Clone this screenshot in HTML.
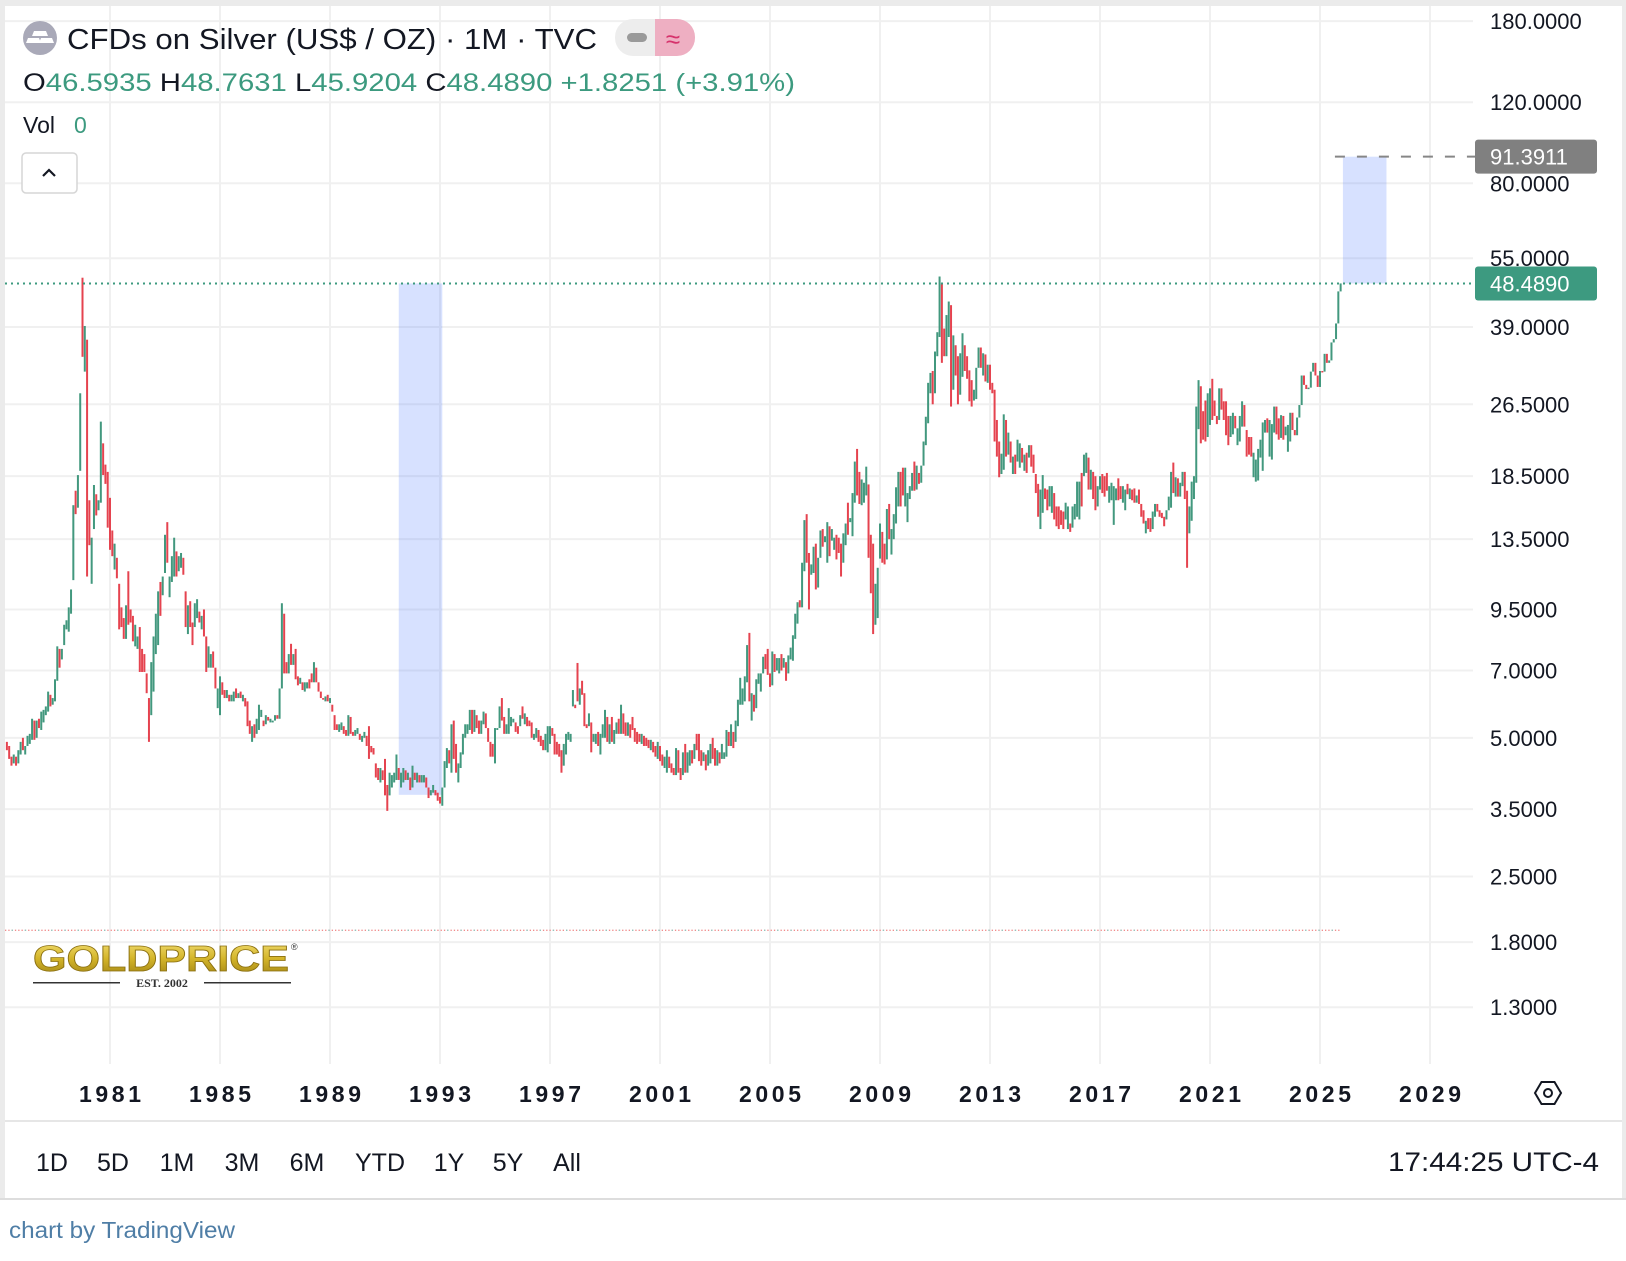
<!DOCTYPE html>
<html><head><meta charset="utf-8"><title>CFDs on Silver chart</title>
<style>
html,body{margin:0;padding:0;background:#fff;}
body{width:1626px;height:1256px;overflow:hidden;font-family:"Liberation Sans",sans-serif;}
svg text{font-family:"Liberation Sans",sans-serif;}
</style></head>
<body>
<svg id="chart" width="1626" height="1256" viewBox="0 0 1626 1256" xmlns="http://www.w3.org/2000/svg">
  <rect x="0" y="0" width="1626" height="1256" fill="#ffffff"/>
  <rect x="0" y="0" width="1626" height="6" fill="#ebebeb"/>
  <rect x="0" y="0" width="5" height="1200" fill="#ebebeb"/>
  <rect x="1622" y="0" width="4" height="1200" fill="#ebebeb"/>
  <rect x="0" y="1198" width="1626" height="2" fill="#dddddd"/>
  <rect x="5" y="1120" width="1617" height="2" fill="#e6e6e6"/>
  <g id="grid"></g>
  <g id="overlays"></g>
  <g id="candles"></g>
  <g id="lines"></g>
  <g id="yaxis"></g>
  <g id="xaxis"></g>

  <!-- header -->
  <g>
    <circle cx="40" cy="38" r="17" fill="#a9a9b8"/>
    <path d="M34 31 h12 l2 5 h-16z M28 38 h11 l2 5 h-15z M41 38 h11 l2 5 h-15z" fill="#fff"/>
    <text x="67" y="49" font-size="29" fill="#131722" textLength="530" lengthAdjust="spacingAndGlyphs">CFDs on Silver (US$ / OZ) · 1M · TVC</text>
    <rect x="615" y="19" width="60" height="37" rx="18" fill="#ededed"/>
    <rect x="655" y="19" width="40" height="37" rx="18" fill="#eeafc2"/>
    <rect x="655" y="19" width="20" height="37" fill="#eeafc2"/>
    <rect x="627" y="33" width="20" height="9" rx="4.5" fill="#9a9a9a"/>
    <text x="673" y="48" font-size="26" fill="#d6336c" text-anchor="middle">≈</text>
    <text x="23" y="91" font-size="25" textLength="772" lengthAdjust="spacingAndGlyphs"><tspan fill="#131722">O</tspan><tspan fill="#3c9a7f">46.5935 </tspan><tspan fill="#131722">H</tspan><tspan fill="#3c9a7f">48.7631 </tspan><tspan fill="#131722">L</tspan><tspan fill="#3c9a7f">45.9204 </tspan><tspan fill="#131722">C</tspan><tspan fill="#3c9a7f">48.4890 +1.8251 (+3.91%)</tspan></text>
    <text x="23" y="133" font-size="23" fill="#131722">Vol</text>
    <text x="74" y="133" font-size="23" fill="#3c9a7f">0</text>
    <rect x="22" y="153" width="55" height="40" rx="4" fill="#fff" stroke="#d6d6d6" stroke-width="1.5"/>
    <path d="M43 176 l6 -6 l6 6" fill="none" stroke="#131722" stroke-width="2.2"/>
  </g>

  <!-- logo -->
  <g>
    <defs>
      <linearGradient id="gold" x1="0" y1="0" x2="0" y2="1">
        <stop offset="0" stop-color="#f6e27a"/><stop offset="0.5" stop-color="#d4b52a"/><stop offset="1" stop-color="#9c7f12"/>
      </linearGradient>
    </defs>
    <text x="33" y="971" font-size="36" font-weight="bold" fill="url(#gold)" stroke="#8a6f10" stroke-width="0.8" textLength="256" lengthAdjust="spacingAndGlyphs">GOLDPRICE</text>
    <text x="291" y="950" font-size="9" fill="#333">®</text>
    <rect x="33" y="982" width="87" height="1.5" fill="#333"/>
    <rect x="204" y="982" width="87" height="1.5" fill="#333"/>
    <text x="162" y="987" font-size="12" font-weight="bold" fill="#333" text-anchor="middle" style="font-family:'Liberation Serif',serif">EST. 2002</text>
  </g>

  <!-- settings icon -->
  <g>
    <polygon points="1535,1093 1541.5,1082 1554.5,1082 1561,1093 1554.5,1104 1541.5,1104" fill="none" stroke="#131722" stroke-width="2"/>
    <circle cx="1548" cy="1093" r="4" fill="none" stroke="#131722" stroke-width="2"/>
  </g>

  <!-- toolbar -->
  <g font-size="25" fill="#131722">
    <text x="52" y="1171" text-anchor="middle">1D</text>
    <text x="113" y="1171" text-anchor="middle">5D</text>
    <text x="177" y="1171" text-anchor="middle">1M</text>
    <text x="242" y="1171" text-anchor="middle">3M</text>
    <text x="307" y="1171" text-anchor="middle">6M</text>
    <text x="380" y="1171" text-anchor="middle">YTD</text>
    <text x="449" y="1171" text-anchor="middle">1Y</text>
    <text x="508" y="1171" text-anchor="middle">5Y</text>
    <text x="567" y="1171" text-anchor="middle">All</text>
    <text x="1388" y="1171" font-size="27" textLength="211" lengthAdjust="spacingAndGlyphs">17:44:25 UTC-4</text>
  </g>
  <text x="9" y="1238" font-size="23" fill="#4f7ea6" textLength="226" lengthAdjust="spacingAndGlyphs">chart by TradingView</text>
</svg>
<script>
// ---- data ----
const startYear = 1977, startMonth = 3; // April 1977 (0-based month)
const yearTicks = [1981,1985,1989,1993,1997,2001,2005,2009,2013,2017,2021,2025,2029];
const priceTicks = [180,120,80,55,39,26.5,18.5,13.5,9.5,7,5,3.5,2.5,1.8,1.3];
const tickLabels = ["180.0000","120.0000","80.0000","55.0000","39.0000","26.5000","18.5000","13.5000","9.5000","7.0000","5.0000","3.5000","2.5000","1.8000","1.3000"];
const lastPrice = 48.489;
const targetPrice = 91.3911;
const supportPrice = 1.91;
const highlightRanges = [
  {from:[1991,6], to:[1993,1], top:48.489, bottom:3.76},
  {from:[2025,10], to:[2027,5], top:91.3911, bottom:48.489}
];
const opens = [
/*1977*/4.9,4.8,4.55,4.4,4.55,4.4,4.6,5.0,4.6,
/*1978*/4.8,4.85,4.95,5.45,5.0,5.5,5.2,5.4,5.6,5.7,6.2,5.9,
/*1979*/6.0,6.65,7.8,7.4,7.95,8.6,8.5,9.3,11,17.2,15.8,19.0,
/*1980*/49.9,31.2,36.6,16.4,10.8,14.2,16.9,15.6,16.2,21.8,19.6,18.9,
/*1981*/16.6,14.1,11.6,12.3,10.8,9.6,9.1,8.2,11.5,9.5,9.2,7.9,
/*1982*/7.8,8.7,7.8,7.6,6.9,6.1,5.6,6.3,7.6,7.95,10.9,10.2,
/*1983*/11.4,14.7,10.1,10.9,11.2,12.7,11.5,11.7,12.3,10.4,8.4,9.9,
/*1984*/8.9,8.7,9.1,9.4,8.6,9.5,8.3,7.1,7.1,7.7,7.1,5.8,
/*1985*/5.6,6.6,6.35,6.1,6.2,6.0,6.0,6.4,6.1,6.3,6.0,6.1,
/*1986*/6.0,5.45,4.9,5.35,5.1,5.2,5.55,5.45,5.35,5.55,5.4,5.4,
/*1987*/5.45,5.6,5.5,6.4,9.3,7.3,6.9,8.0,7.2,7.8,6.8,6.55,
/*1988*/6.6,6.3,6.4,6.7,6.9,6.6,7.1,6.6,6.3,6.1,6.0,6.2,
/*1989*/5.95,5.9,5.6,5.35,5.15,5.2,5.3,5.2,5.05,5.55,5.15,5.05,
/*1990*/5.1,5.1,4.9,5.0,5.05,5.3,4.8,4.75,4.4,4.3,4.0,4.25,
/*1991*/4.5,3.95,3.75,3.9,4.0,4.05,4.3,3.9,4.0,4.25,4.05,4.1,
/*1992*/3.9,4.2,4.0,4.15,4.0,4.0,4.1,3.9,3.75,3.8,3.85,3.8,
/*1993*/3.72,3.56,3.9,4.3,4.7,4.2,5.45,4.85,4.0,4.3,4.6,5.0,
/*1994*/5.1,5.2,5.75,5.15,5.6,5.45,5.1,5.35,5.65,5.25,4.9,4.85,
/*1995*/4.4,5.2,5.25,6.1,5.55,5.1,5.1,5.3,5.4,5.4,5.3,5.3,
/*1996*/5.85,5.35,5.55,5.45,5.4,4.95,5.0,5.2,5.05,4.95,4.7,4.65,
/*1997*/4.85,5.25,5.1,4.9,4.85,4.7,4.35,4.6,4.95,4.9,5.85,5.9,
/*1998*/7.27,5.9,6.65,6.25,5.35,5.3,5.4,4.9,4.85,5.15,4.6,5.0,
/*1999*/5.0,5.55,4.85,5.55,4.85,5.1,5.5,5.1,5.65,5.4,5.05,5.35,
/*2000*/5.55,5.25,5.15,5.1,4.85,5.05,5.0,4.95,4.7,4.9,4.8,4.5,
/*2001*/4.8,4.6,4.3,4.2,4.55,4.4,4.3,4.15,4.7,4.3,4.15,4.85,
/*2002*/4.2,4.35,4.7,4.5,5.1,5.1,4.7,4.45,4.6,4.35,4.4,5.0,
/*2003*/4.75,4.35,4.65,4.5,4.5,4.55,5.15,4.8,5.15,4.9,5.3,5.9,
/*2004*/5.9,6.0,6.6,8.45,5.45,6.2,5.8,6.55,6.3,6.9,7.6,7.8,
/*2005*/6.9,6.5,7.6,7.0,6.9,7.6,7.1,7.3,6.9,7.4,7.35,8.2,
/*2006*/8.85,9.95,9.6,11.5,15.3,12.6,11.3,11.4,13.2,10.6,12.3,14.2,
/*2007*/13.3,12.0,14.4,13.4,12.8,13.8,13.6,13.2,12.0,13.1,16.2,14.7,
/*2008*/13.7,16.2,21.2,18.9,16.0,16.2,16.8,17.75,13.8,13.2,8.8,9.1,
/*2009*/12.25,14.0,13.2,12.2,16.1,12.5,13.5,14.6,15.9,18.9,19.3,15.9,
/*2010*/14.7,16.5,17.2,19.9,17.3,18.8,17.9,19.5,21.6,24.1,28.0,31.3,
/*2011*/28.0,33.7,37.1,48.5,38.7,33.7,37.1,43.5,28.5,35.6,33.7,27.8,
/*2012*/30.4,35.6,33.7,31.4,29.9,27.0,27.2,31.8,35.2,30.6,34.0,29.5,
/*2013*/32.3,29.5,28.5,24.5,22.0,18.7,19.1,24.5,20.6,22.0,18.7,20.6,
/*2014*/19.9,19.3,21.3,19.0,20.8,20.3,21.6,20.6,18.7,17.8,14.2,15.4,
/*2015*/17.4,17.3,15.9,15.4,17.0,15.9,15.9,15.6,15.5,14.9,14.2,14.6,
/*2016*/14.3,14.9,15.1,14.9,18.8,18.5,18.8,20.3,17.3,18.9,18.5,15.9,
/*2017*/17.3,18.7,18.5,18.8,16.2,16.4,14.5,16.4,18.3,17.6,16.2,15.6,
/*2018*/17.8,16.5,17.3,17.4,16.2,17.3,16.1,15.6,13.9,15.0,15.0,14.2,
/*2019*/15.1,16.1,15.6,15.4,15.1,14.9,15.6,15.8,19.8,16.7,18.3,16.7,
/*2020*/17.6,18.9,17.2,13.9,14.8,16.5,17.9,23.4,29.0,25.6,27.0,22.5,
/*2021*/23.9,30.1,27.0,25.0,24.5,28.7,26.9,26.9,25.0,22.5,22.8,25.0,
/*2022*/21.6,22.0,23.7,26.4,23.3,22.5,22.5,18.4,18.0,18.1,20.3,19.0,
/*2023*/23.0,24.7,20.4,20.1,23.0,26.2,24.7,22.4,25.0,22.7,20.9,22.0,
/*2024*/25.4,23.3,22.7,24.8,26.4,30.6,29.2,28.6,28.8,31.2,32.6,30.6,
/*2025*/28.9,31.3,31.2,34.1,32.6,33.0,36.1,36.7,39.7,46.5935
];
const closes = [
/*1977*/4.7,4.5,4.35,4.6,4.35,4.7,4.9,4.7,4.8,
/*1978*/5.05,5.1,5.5,4.95,5.45,5.25,5.7,5.75,5.85,6.3,5.85,6.1,
/*1979*/6.7,7.9,7.1,7.8,8.8,9.0,9.6,10.5,16,15.3,18.6,28.0,
/*1980*/33.6,39.2,11.2,13.1,13.6,17.7,15.2,16.4,24.3,18.6,17.8,14.3,
/*1981*/12.8,12.4,13.2,11.1,8.6,8.7,8.2,9.7,8.8,8.9,8.1,8.8,
/*1982*/8.3,6.95,6.95,6.95,6.25,4.9,7.3,8.3,9.3,10.4,9.2,11.2,
/*1983*/13.8,12.0,11.2,12.4,13.6,11.2,12.4,12.6,11.3,8.7,9.7,8.7,
/*1984*/7.95,9.8,10.0,8.9,9.2,8.3,6.95,7.9,7.6,7.1,6.4,6.4,
/*1985*/6.8,6.2,6.1,6.35,6.0,6.2,6.3,6.1,6.25,6.1,6.2,5.85,
/*1986*/5.3,5.1,5.3,5.0,5.5,5.9,5.75,5.3,5.6,5.45,5.5,5.45,
/*1987*/5.6,5.5,6.4,9.8,6.9,6.9,7.6,7.2,7.6,6.7,6.5,6.75,
/*1988*/6.35,6.6,6.6,6.4,6.6,7.3,6.6,6.3,6.1,6.05,6.15,6.0,
/*1989*/6.1,5.7,5.2,5.2,5.35,5.4,5.1,5.05,5.6,5.1,5.05,5.2,
/*1990*/5.25,4.95,5.05,5.15,4.8,4.5,4.65,4.6,4.1,4.05,4.3,4.05,
/*1991*/3.75,3.47,4.2,4.15,4.2,4.6,4.05,4.2,4.3,4.05,4.2,3.85,
/*1992*/4.35,4.05,4.2,4.0,4.15,4.15,3.9,3.7,3.85,3.95,3.75,3.65,
/*1993*/3.6,3.9,4.45,4.75,4.4,5.35,4.5,4.2,4.4,4.65,5.1,5.35,
/*1994*/5.35,5.75,5.1,5.75,5.25,5.1,5.45,5.7,5.25,4.9,4.55,4.55,
/*1995*/5.25,5.25,5.85,5.45,5.1,5.35,5.8,5.55,5.5,5.15,5.1,5.6,
/*1996*/5.5,5.65,5.3,5.3,5.0,5.1,5.25,4.9,4.8,4.7,5.1,5.3,
/*1997*/5.3,5.05,4.6,4.6,4.55,4.2,4.85,5.1,5.15,5.1,6.35,5.8,
/*1998*/6.0,6.4,6.2,5.3,5.25,5.65,4.65,5.1,5.1,4.8,5.1,5.35,
/*1999*/5.75,4.9,5.35,4.9,5.2,5.4,5.1,5.9,5.1,5.05,5.4,5.0,
/*2000*/5.2,4.9,4.85,4.9,5.1,4.8,4.8,4.75,4.95,4.65,4.55,4.9,
/*2001*/4.45,4.35,4.55,4.7,4.3,4.2,4.15,4.75,4.2,4.05,4.65,4.2,
/*2002*/4.65,4.7,4.4,4.85,4.7,4.45,4.35,4.65,4.25,4.7,4.85,4.5,
/*2003*/4.35,4.7,4.4,4.85,4.65,5.2,4.8,5.35,4.75,5.45,6.05,6.75,
/*2004*/6.4,6.8,7.95,6.0,6.25,5.7,6.7,6.9,6.9,7.5,7.05,6.85,
/*2005*/6.45,7.7,6.95,7.45,7.45,7.0,7.45,6.65,7.55,7.85,8.35,9.3,
/*2006*/9.85,9.6,12.0,14.85,12.0,9.5,11.9,13.0,10.5,12.3,14.1,13.0,
/*2007*/13.7,14.7,12.4,14.2,13.6,12.2,12.6,11.2,13.9,14.6,13.8,15.0,
/*2008*/17.0,19.9,16.8,16.1,18.2,17.9,19.4,12.3,10.3,8.4,10.8,11.7,
/*2009*/14.6,12.0,11.9,15.7,13.5,14.2,15.3,17.5,18.9,15.9,16.8,19.3,
/*2010*/17.0,17.6,18.8,17.2,19.5,17.8,19.5,22.0,24.9,29.5,31.0,26.5,
/*2011*/34.5,38.0,50.2,32.6,33.7,41.4,44.3,26.2,37.4,30.6,26.5,34.2,
/*2012*/37.8,31.3,30.1,26.9,26.2,28.5,31.8,35.2,31.8,34.2,29.7,32.3,
/*2013*/28.5,28.0,22.0,20.4,18.4,20.7,25.2,20.4,23.0,19.8,20.4,18.7,
/*2014*/22.2,21.8,19.8,20.6,18.8,21.6,19.4,18.8,17.0,15.1,17.3,18.6,
/*2015*/16.5,15.6,17.6,17.6,14.9,14.4,14.2,14.5,14.2,16.2,15.9,14.0,
/*2016*/15.9,16.1,18.0,18.0,15.9,20.6,20.8,17.3,19.1,16.5,15.6,17.6,
/*2017*/18.5,17.0,16.7,17.2,17.6,17.9,17.6,17.4,16.4,16.5,17.6,17.3,
/*2018*/16.9,17.4,16.4,16.2,16.8,16.1,15.1,14.6,14.8,14.2,14.0,15.5,
/*2019*/16.1,15.5,15.1,15.0,14.4,15.6,16.7,18.9,17.0,18.4,16.7,17.9,
/*2020*/18.9,16.5,11.7,15.9,18.0,18.5,26.2,29.9,21.8,22.2,22.0,28.0,
/*2021*/28.7,24.5,25.0,24.0,28.7,25.8,24.5,22.7,21.6,25.0,25.4,23.5,
/*2022*/23.5,25.0,26.9,23.7,20.4,20.6,20.4,20.8,20.1,21.2,22.2,24.2,
/*2023*/24.5,23.0,24.5,24.0,26.2,22.8,22.2,25.1,22.2,23.7,23.9,25.4,
/*2024*/23.3,22.7,24.8,26.4,30.6,29.2,28.6,28.8,31.2,32.6,30.6,28.9,
/*2025*/31.3,31.2,34.1,32.6,33.0,36.1,36.7,39.7,46.6,48.489
];

// ---- scales ----
const NS = "http://www.w3.org/2000/svg";
const X0 = 110, PX_PER_YEAR = 27.5;
const Y_REF = 327, V_REF = 39, PX_PER_LN = 200;
const PLOT_LEFT = 5, PLOT_RIGHT = 1473, PLOT_TOP = 6, PLOT_BOTTOM = 1064;
function xOf(year, month){ return X0 + ((year - 1981) + month/12) * PX_PER_YEAR; }
function yOf(v){ return Y_REF + (Math.log(V_REF) - Math.log(v)) * PX_PER_LN; }
function mk(tag, attrs, parent){ const e = document.createElementNS(NS, tag); for (const k in attrs) e.setAttribute(k, attrs[k]); parent.appendChild(e); return e; }

const grid = document.getElementById('grid');
yearTicks.forEach(function(yr){
  const x = xOf(yr, 0);
  const l = mk('line', {x1:x, x2:x, y1:PLOT_TOP, y2:PLOT_BOTTOM, stroke:'#f0f0f0', 'stroke-width':2}, grid);
  
  
});
priceTicks.forEach(function(v){
  const y = yOf(v);
  const l = mk('line', {x1:PLOT_LEFT, x2:PLOT_RIGHT, y1:y, y2:y, stroke:'#f0f0f0', 'stroke-width':2}, grid);
  
  
});

const ov = document.getElementById('overlays');
highlightRanges.forEach(function(r){
  const x1 = xOf(r.from[0], r.from[1]), x2 = xOf(r.to[0], r.to[1]);
  const y1 = yOf(r.top), y2 = yOf(r.bottom);
  const rc = mk('rect', {x:x1, y:y1, width:x2-x1, height:y2-y1, fill:'rgba(41,98,255,0.19)'}, ov);
  
  
});

const cg = document.getElementById('candles');
for (let i = 0; i < closes.length; i++){
  const mIdx = startMonth + i;
  const yr = startYear + Math.floor(mIdx/12), mo = mIdx % 12;
  const x = xOf(yr, mo);
  const o = opens[i], c = closes[i];
  const yTop = yOf(Math.max(o,c)), yBot = yOf(Math.min(o,c));
  const up = c >= o;
  const r = mk('rect', {x:(x-1).toFixed(2), y:yTop.toFixed(2), width:2, height:Math.max(1.5, yBot-yTop).toFixed(2), fill: up ? '#42987e' : '#e5434f'}, cg);
  
  
}

const lg = document.getElementById('lines');
const yLast = yOf(lastPrice);
const lastLine = mk('line', {x1:PLOT_LEFT, x2:1475, y1:yLast, y2:yLast, stroke:'#3c9a7f', 'stroke-width':2, 'stroke-dasharray':'2 4'}, lg);


const yT = yOf(targetPrice);
const tLine = mk('line', {x1:xOf(2025,10)-8, x2:1475, y1:yT, y2:yT, stroke:'#868686', 'stroke-width':2, 'stroke-dasharray':'10 12'}, lg);


const yS = yOf(supportPrice);
const sLine1 = mk('line', {x1:PLOT_LEFT, x2:1341, y1:yS, y2:yS, stroke:'#f08c8c', 'stroke-width':1.3, 'stroke-dasharray':'1.3 2'}, lg);


const sLine2 = mk('line', {x1:PLOT_LEFT+6.6, x2:1341, y1:yS, y2:yS, stroke:'#8cc8c0', 'stroke-width':1.3, 'stroke-dasharray':'1.3 11.9'}, lg);



const ya = document.getElementById('yaxis');
priceTicks.forEach(function(v, i){
  const t = mk('text', {x:1490, y:yOf(v)+8, 'font-size':22, fill:'#131722'}, ya);
  t.textContent = tickLabels[i];
  
  
});
function badge(v, txt, color, name){
  const y = yOf(v);
  const b = mk('rect', {x:1475, y:y-17, width:122, height:34, rx:3, fill:color}, ya);
  
  
  const t = mk('text', {x:1490, y:y+8, 'font-size':22, fill:'#ffffff'}, ya);
  t.textContent = txt;
  
  
}
badge(targetPrice, '91.3911', '#808080', 'target-price');
badge(lastPrice, '48.4890', '#3d9a80', 'last-price');

const xa = document.getElementById('xaxis');
yearTicks.forEach(function(yr){
  const t = mk('text', {x:xOf(yr,0)-31, y:1102, 'font-size':23, 'font-weight':'bold', fill:'#131722', textLength:62, lengthAdjust:'spacing'}, xa);
  t.textContent = String(yr);
  
  
});
</script>
</body></html>
